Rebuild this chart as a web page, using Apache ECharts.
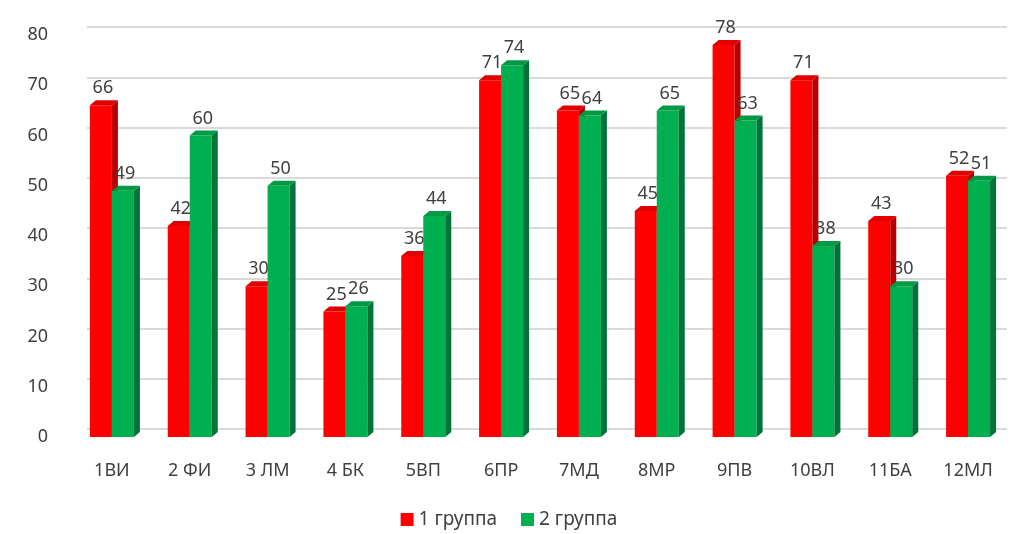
<!DOCTYPE html>
<html><head><meta charset="utf-8">
<script src="https://cdn.jsdelivr.net/npm/echarts@6/dist/echarts.min.js"></script>
<style>html,body{margin:0;padding:0;background:#fff}#c{width:1018px;height:534px}</style>
</head><body><div id="c"></div>
<script>
const categories = ['1ВИ','2 ФИ','3 ЛМ','4 БК','5ВП','6ПР','7МД','8МР','9ПВ','10ВЛ','11БА','12МЛ'];
const group1 = [66,42,30,25,36,71,65,45,78,71,43,52];
const group2 = [49,60,50,26,44,74,64,65,63,38,30,51];
const seriesNames = ['1 группа','2 группа'];

const FONT = '"Noto Sans", "Open Sans", sans-serif';
const front = ['#ff0000','#00b050'];
const side = ['#b80000','#00723a'];
const topc = ['#e00000','#009a45'];
const W = 22, DX = 6, DY = 5;

function makeRender(idx){
  return function(params, api){
    const cat = api.value(0), v = api.value(1);
    const p = api.coord([cat, v]);
    const b = api.coord([cat, 0]);
    const x0 = idx === 0 ? p[0] - W : p[0];
    const x1 = x0 + W;
    const yt = p[1], yb = b[1];
    return {type:'group', children:[
      {type:'rect', shape:{x:x0, y:yt, width:W, height:yb-yt}, style:{fill:front[idx]}},
      {type:'polygon', shape:{points:[[x1,yt],[x1+DX,yt-DY],[x1+DX,yb-DY],[x1,yb]]}, style:{fill:side[idx]}},
      {type:'polygon', shape:{points:[[x0,yt],[x0+DX,yt-DY],[x1+DX,yt-DY],[x1,yt]]}, style:{fill:topc[idx]}},
      {type:'text', style:{text:String(v), x:(x0+x1)/2+2, y:yt-8, align:'center', verticalAlign:'bottom', fill:'#404040', font:'18px ' + FONT}}
    ]};
  };
}

const chart = echarts.init(document.getElementById('c'));
chart.setOption({
  backgroundColor:'#fff',
  animation:false,
  grid:[
    {left:73, right:11, top:35, bottom:97},
    {left:87, right:11, top:27, bottom:105}
  ],
  xAxis:[
    {type:'category', data:categories, gridIndex:0, axisLine:{show:false}, axisTick:{show:false},
     axisLabel:{color:'#404040', fontSize:18, fontFamily:FONT, margin:25}},
    {type:'category', data:categories, gridIndex:1, show:false}
  ],
  yAxis:[
    {type:'value', min:0, max:80, interval:10, gridIndex:0, axisLine:{show:false}, axisTick:{show:false},
     splitLine:{show:false}, axisLabel:{color:'#404040', fontSize:18, fontFamily:FONT, margin:25}},
    {type:'value', min:0, max:80, interval:10, gridIndex:1, axisLine:{show:false}, axisTick:{show:false},
     axisLabel:{show:false}, splitLine:{show:true, lineStyle:{color:'#dadada', width:2}}}
  ],
  legend:{bottom:0, left:'center', icon:'rect', itemWidth:13, itemHeight:13, itemGap:24,
    textStyle:{color:'#404040', fontSize:19, fontFamily:FONT}, data:seriesNames},
  series:[
    {name:seriesNames[0], type:'custom', xAxisIndex:0, yAxisIndex:0, itemStyle:{color:front[0]},
     renderItem:makeRender(0), data:group1.map((v,i)=>[i,v]), encode:{x:0,y:1}},
    {name:seriesNames[1], type:'custom', xAxisIndex:0, yAxisIndex:0, itemStyle:{color:front[1]},
     renderItem:makeRender(1), data:group2.map((v,i)=>[i,v]), encode:{x:0,y:1}}
  ]
});
</script></body></html>
